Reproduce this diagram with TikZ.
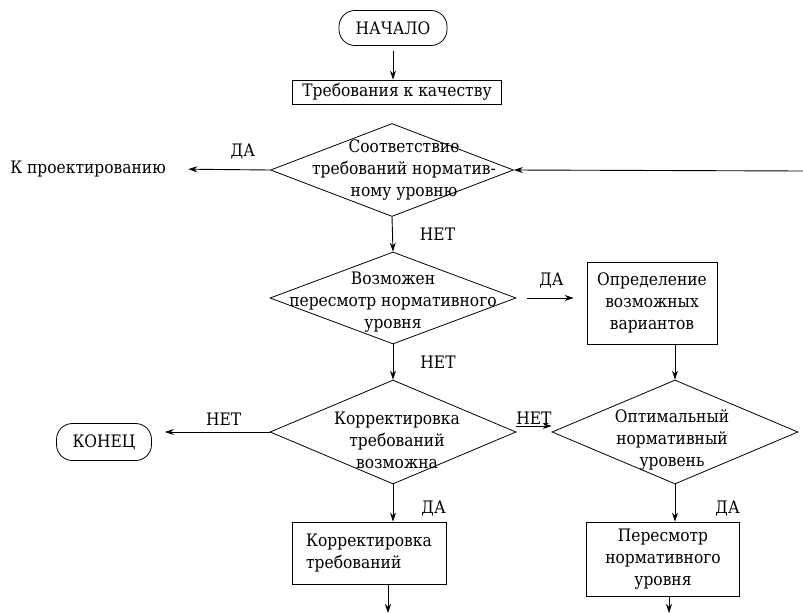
\documentclass[tikz,border=0pt]{standalone}
\usepackage{fontspec}
\setmainfont{DejaVu Serif}[FakeStretch=0.9]
\usetikzlibrary{arrows.meta,shapes.geometric,positioning,calc}

\begin{document}
\begin{tikzpicture}[x=1pt, y=-1pt,
    font=\fontsize{17.2}{22}\selectfont,
    term/.style={draw, rounded corners=16pt, minimum height=35pt, line width=0.8pt},
    blk/.style={draw, align=center, inner sep=4pt, line width=0.8pt},
    dia/.style={draw, diamond, inner sep=0pt, minimum width=246pt, minimum height=104pt, line width=0.8pt},
    dtxt/.style={align=center, inner sep=0pt},
    arr/.style={-{Stealth[length=9pt,width=6pt]}, line width=0.9pt},
    lbl/.style={inner sep=1pt}
]
\useasboundingbox (0,0) rectangle (803,613);

% upper part
\node[term, minimum width=108pt] (start) at (393,28) {НАЧАЛО};
\node[blk, minimum width=209pt, minimum height=24pt, inner sep=0pt] (req) at (397,92) {Требования к качеству};
\node[dia, minimum width=243pt, minimum height=93pt] (conf) at (392,170) {};
\node[dtxt] (conf-t) at (404,170) {Соответствие\\требований норматив-\\ному уровню};
\node (design) at (88,169) {К проектированию};
\coordinate (back) at (803,171);

\node[dia, minimum height=92pt] (rev) at (393,298) {};
\node[dtxt] (rev-t) at (393,302) {Возможен\\пересмотр нормативного\\уровня};
\node[blk, minimum width=130pt, minimum height=82pt] (vars) at (652,303) {Определение\\возможных\\вариантов};

% lower part
\node[dia] (corr) at (393,432) {};
\node[dtxt] (corr-t) at (397,440) {Корректировка\\требований\\возможна};
\node[term, minimum width=95pt, minimum height=37pt] (stop) at (104,442) {КОНЕЦ};
\node[dia] (opt) at (675,432) {};
\node[dtxt] (opt-t) at (672,440) {Оптимальный\\нормативный\\уровень};
\node[blk, align=left, minimum width=154pt, minimum height=62pt] (creq) at (369,553) {Корректировка\\требований};
\node[blk, minimum width=153pt, minimum height=74pt] (revl) at (663,559) {Пересмотр\\нормативного\\уровня};
\coordinate (out1) at (388,613);
\coordinate (out2) at (669,613);

\draw[arr, shorten <=5pt] (start.south) -- (start.south |- req.north);
\draw[arr, shorten >=19pt] (conf.west) -- node[lbl, above=9pt, pos=0.27] (yes1) {ДА} (design.east);
\draw[arr] (back) -- (conf.east);
\draw[arr] (conf.south) -- node[lbl, right=26pt] (no1) {НЕТ} (rev.north);
\draw[arr, shorten <=11pt, shorten >=13pt] (rev.east) -- node[lbl, above=8pt] (yes2) {ДА} (rev.east -| vars.west);
\draw[arr] (vars.south -| opt.north) -- (opt.north);
\draw[arr] (rev.south) -- node[lbl, right=26pt] (no2) {НЕТ} (corr.north);
\draw[arr, shorten >=13pt] (corr.west) -- node[lbl, above=5pt, pos=0.39] (no3) {НЕТ} (corr.west -| stop.east);
\draw[arr] ([yshift=6pt]corr.east) -- node[lbl, above=0pt] (no4) {НЕТ} ([yshift=6pt]opt.west);
\draw[arr] (corr.south) -- node[lbl, right=27pt, pos=0.65] (yes3) {ДА} (corr.south |- creq.north);
\draw[arr] (opt.south) -- node[lbl, right=39pt, pos=0.65] (yes4) {ДА} (opt.south |- revl.north);
\draw[arr] (creq.south -| out1) -- (out1);
\draw[arr] (revl.south -| out2) -- (out2);
\end{tikzpicture}
\end{document}
